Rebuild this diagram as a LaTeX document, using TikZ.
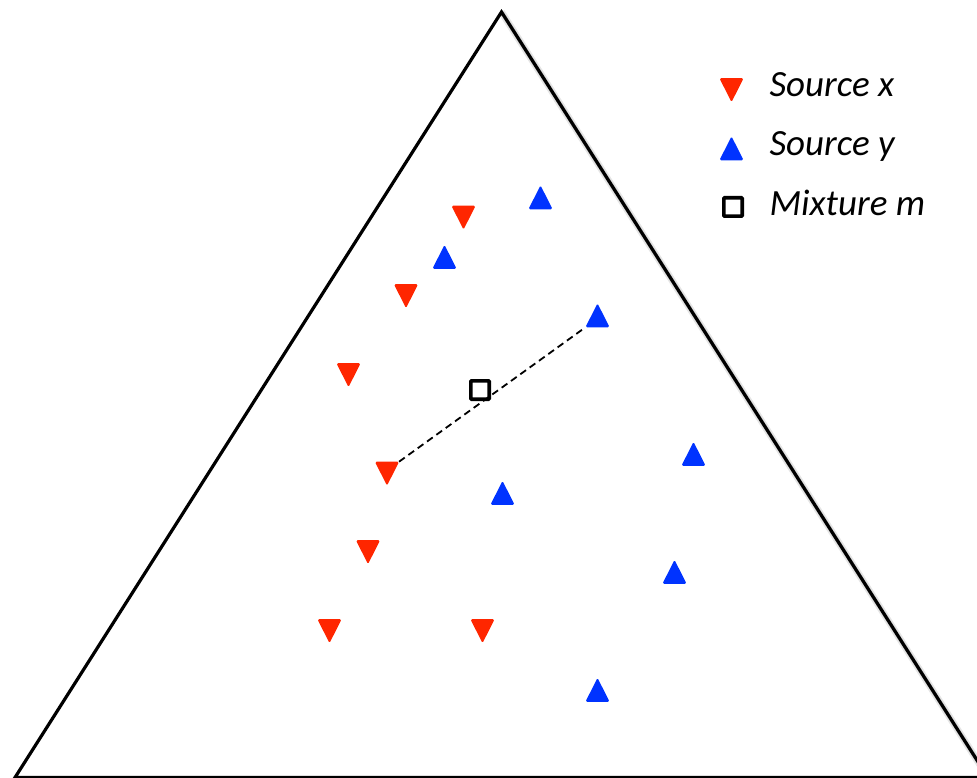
\documentclass[tikz,border=0pt]{standalone}
\usepackage{fontspec}
\setmainfont{Carlito}
\usetikzlibrary{shapes.geometric}
\definecolor{srcred}{RGB}{255,38,0}
\definecolor{srcblue}{RGB}{0,51,255}
\begin{document}
\begin{tikzpicture}[x=1pt,y=-1pt,
  redmark/.style={regular polygon, regular polygon sides=3, shape border rotate=180,
    fill=srcred, draw=none, minimum size=32pt, inner sep=0pt, outer sep=0pt,
    rounded corners=1.5pt, xscale=0.87, yshift=3.8pt},
  bluemark/.style={regular polygon, regular polygon sides=3,
    fill=srcblue, draw=none, minimum size=32pt, inner sep=0pt, outer sep=0pt,
    rounded corners=1.5pt, xscale=0.87, yshift=-3.8pt},
  mixmark/.style={rectangle, draw=black, line width=3.6pt, minimum size=18.4pt,
    inner sep=0pt, outer sep=0pt, rounded corners=0.8pt, fill=white},
  legendtext/.style={anchor=base west, inner sep=0pt, outer sep=0pt,
    font=\fontsize{37}{41}\selectfont\itshape},
  simplex/.style={draw=black, line width=3.2pt, line join=miter},
  shadowline/.style={draw=black, line width=3pt},
  mixline/.style={draw=black, line width=1.8pt, dash pattern=on 7pt off 4.5pt}
]
\useasboundingbox (0,0) rectangle (977,778);
\clip (0,0) rectangle (977,778);

% shadow of the right edge
\coordinate (apex) at (501.5,12);
\coordinate (bl) at (15,777.5);
\coordinate (br) at (988,777.5);
\begin{scope}[shift={(3,2)}]
  \draw[shadowline, opacity=0.10, line width=7pt] (apex) -- (br);
  \draw[shadowline, opacity=0.12, line width=4pt] (apex) -- (br);
\end{scope}
\draw[simplex] (bl) -- (apex) -- (br) -- cycle;

% source x (red)
\node[redmark] (r1) at (463.5,217.5) {};
\node[redmark] (r2) at (406,296) {};
\node[redmark] (r3) at (348.5,375) {};
\node[redmark] (r4) at (387,473.5) {};
\node[redmark] (r5) at (368,552) {};
\node[redmark] (r6) at (329.5,631) {};
\node[redmark] (r7) at (482.5,631) {};

% source y (blue)
\node[bluemark] (b1) at (540.5,197.5) {};
\node[bluemark] (b2) at (444.5,257) {};
\node[bluemark] (b3) at (597.5,315.5) {};
\node[bluemark] (b4) at (693.5,454) {};
\node[bluemark] (b5) at (502.5,493) {};
\node[bluemark] (b6) at (674.5,572) {};
\node[bluemark] (b7) at (597.5,690) {};

% mixture
\node[mixmark] (m) at (480,390) {};
\draw[mixline] (r4.corner 2) -- (b3.corner 2);

% legend
\node[redmark] (lr) at (731.5,90) {};
\node[bluemark] (lb) at (731.5,148.5) {};
\node[mixmark] (lm) at (733,207) {};
\node[legendtext] (tx) at (769.5,96.7) {Source x};
\node[legendtext] (ty) at (769.5,155.5) {Source y};
\node[legendtext] (tm) at (769.5,215) {Mixture m};
\end{tikzpicture}
\end{document}
